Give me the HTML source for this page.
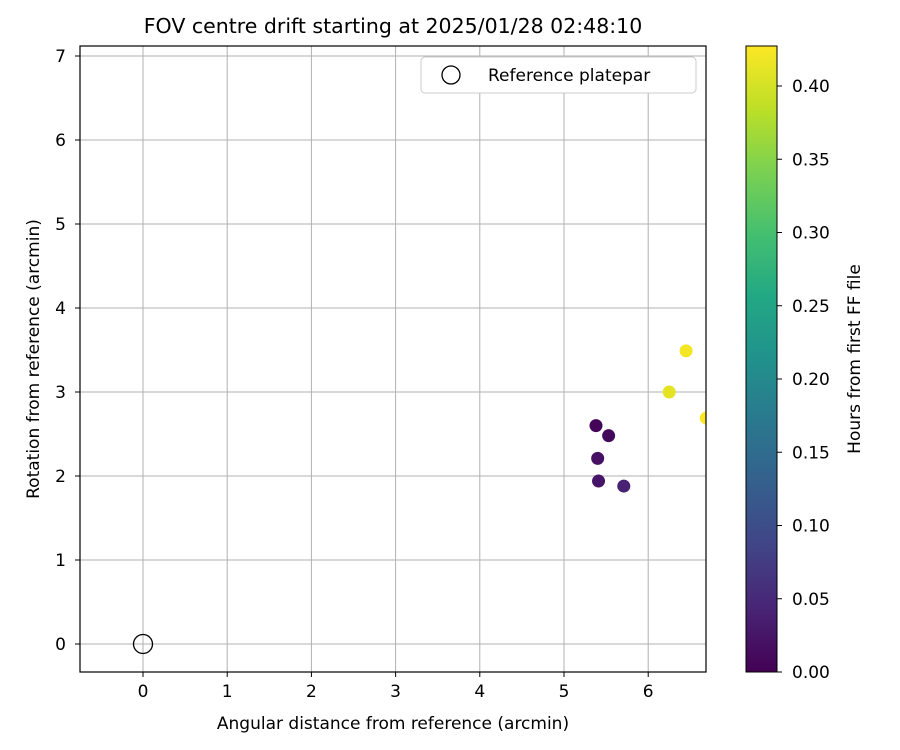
<!DOCTYPE html>
<html><head><meta charset="utf-8">
<style>body{margin:0;background:#fff}svg{display:block;font-family:"DejaVu Sans","Liberation Sans",sans-serif}</style>
</head><body>
<svg id="chart" width="900" height="750" xmlns="http://www.w3.org/2000/svg">
<defs>
<linearGradient id="vir" x1="0" y1="1" x2="0" y2="0">
<stop offset="0" stop-color="#440154"/><stop offset="0.1" stop-color="#482475"/><stop offset="0.2" stop-color="#414487"/><stop offset="0.3" stop-color="#355f8d"/><stop offset="0.4" stop-color="#2a788e"/><stop offset="0.5" stop-color="#21918c"/><stop offset="0.6" stop-color="#22a884"/><stop offset="0.7" stop-color="#44bf70"/><stop offset="0.8" stop-color="#7ad151"/><stop offset="0.9" stop-color="#bddf26"/><stop offset="1" stop-color="#fde725"/>
</linearGradient>
<clipPath id="pc"><rect x="80" y="46" width="626" height="626"/></clipPath>
</defs>
<text x="393" y="33" font-size="20.5" text-anchor="middle">FOV centre drift starting at 2025/01/28 02:48:10</text>
<g id="grid"></g>
<g id="pts" clip-path="url(#pc)"></g>
<rect x="80" y="46" width="626" height="626" fill="none" stroke="#000" stroke-width="1.2"/>
<g id="axes"></g>
<text x="393" y="729" font-size="17" text-anchor="middle">Angular distance from reference (arcmin)</text>
<text transform="translate(39,359) rotate(-90)" font-size="17" text-anchor="middle">Rotation from reference (arcmin)</text>
<g>
<rect x="421" y="57" width="275" height="36" rx="4" fill="#fff" stroke="#ccc"/>
<circle cx="451" cy="75" r="9" fill="none" stroke="#000" stroke-width="1.3"/>
<text x="488" y="81" font-size="17">Reference platepar</text>
</g>
<rect x="746" y="46" width="31" height="626" fill="url(#vir)" stroke="#000" stroke-width="1"/>
<g id="cbar"></g>
<text transform="translate(860,359) rotate(-90)" font-size="17" text-anchor="middle">Hours from first FF file</text>
</svg>
<script>
const xs=[5.38,5.53,5.40,5.41,5.71,6.25,6.45,6.69];
const ys=[2.60,2.48,2.21,1.94,1.88,3.00,3.49,2.69];
const hours=[0.005,0.01,0.02,0.025,0.04,0.41,0.42,0.43];
const xTicks=[0,1,2,3,4,5,6];
const yTicks=[0,1,2,3,4,5,6,7];
const cTicks=[0,0.05,0.1,0.15,0.2,0.25,0.3,0.35,0.4];
const NS="http://www.w3.org/2000/svg";
const X=v=>143+v*84.2, Y=v=>644-v*84, C=v=>672-v*1465;
const vir=["#440154","#482475","#414487","#355f8d","#2a788e","#21918c","#22a884","#44bf70","#7ad151","#bddf26","#fde725"];
function col(h){let t=Math.max(0,Math.min(1,h/0.427))*10;let i=Math.min(9,Math.floor(t)),f=t-i;
const a=vir[i],b=vir[i+1];const p=(s,k)=>parseInt(s.substr(k,2),16);let o="#";
for(const k of [1,3,5]){o+=Math.round(p(a,k)+(p(b,k)-p(a,k))*f).toString(16).padStart(2,"0");}return o;}
function mk(tag,at,parent,txt){const e=document.createElementNS(NS,tag);for(const k in at)e.setAttribute(k,at[k]);if(txt!==undefined)e.textContent=txt;document.getElementById(parent).appendChild(e);return e;}
xTicks.forEach(v=>{const l=mk("line",{x1:X(v),x2:X(v),y1:46,y2:672,stroke:"#b0b0b0","stroke-width":1},"grid");


const t=mk("line",{x1:X(v),x2:X(v),y1:672,y2:677,stroke:"#000"},"axes");


const s=mk("text",{x:X(v),y:697,"font-size":17,"text-anchor":"middle"},"axes",String(v));

});
yTicks.forEach(v=>{const l=mk("line",{x1:80,x2:706,y1:Y(v),y2:Y(v),stroke:"#b0b0b0","stroke-width":1},"grid");


const t=mk("line",{x1:75,x2:80,y1:Y(v),y2:Y(v),stroke:"#000"},"axes");


const s=mk("text",{x:66,y:Y(v)+6,"font-size":17,"text-anchor":"end"},"axes",String(v));

});
cTicks.forEach(v=>{const t=mk("line",{x1:777,x2:782,y1:C(v),y2:C(v),stroke:"#000"},"cbar");


const s=mk("text",{x:792,y:C(v)+6,"font-size":17},"cbar",v.toFixed(2));

});
xs.forEach((x,i)=>{const c=mk("circle",{cx:X(x),cy:Y(ys[i]),r:6.5,fill:col(hours[i])},"pts");

});
const r=mk("circle",{cx:X(0),cy:Y(0),r:9.5,fill:"none",stroke:"#000","stroke-width":1.3},"pts");


</script>
</body></html>
